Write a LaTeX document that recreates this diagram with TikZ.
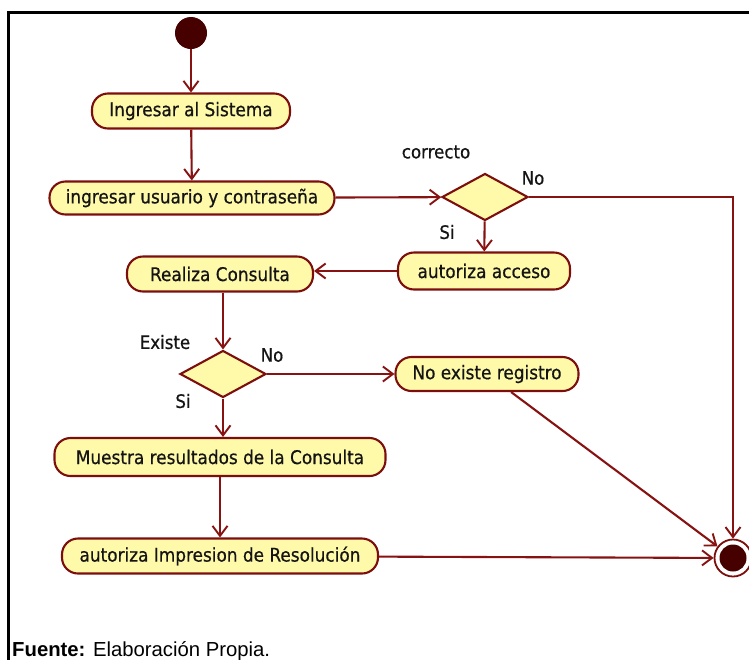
\documentclass[tikz,border=0pt]{standalone}
\usepackage{fontspec}
\setmainfont{DejaVu Sans Condensed}[FakeBold=0.6]
\newfontfamily\umlfont{DejaVu Sans Condensed}[FakeBold=0.6]
\newfontfamily\captionfont{Liberation Sans}
\usetikzlibrary{arrows.meta,shapes.geometric}
\definecolor{umlborder}{RGB}{125,14,14}
\definecolor{umlfill}{RGB}{255,250,170}
\definecolor{umlline}{RGB}{135,18,18}
\definecolor{umldot}{RGB}{70,0,0}
\begin{document}
\begin{tikzpicture}[x=1pt,y=-1pt,
  action/.style={draw=umlborder,fill=umlfill,line width=2.1pt,rounded corners=16pt,
    minimum height=#1,inner sep=0pt,font=\umlfont\fontsize{18.8}{21}\selectfont,text=black!92},
  action/.default=35pt,
  decision/.style={draw=umlborder,fill=umlfill,line width=2.1pt,diamond,aspect=1.8,
    minimum width=86pt,minimum height=47pt,inner sep=0pt},
  guard/.style={font=\umlfont\fontsize{18.5}{21}\selectfont,text=black!92,inner sep=0pt},
  flow/.style={draw=umlline,line width=2.1pt,-{Straight Barb[length=10pt,width=15pt,line width=1.9pt]}}]
\useasboundingbox (0,0) rectangle (749,659);
\fill[white] (0,0) rectangle (749,659);
% outer frame
\draw[line width=2.2pt,black] (8.5,660) -- (8.5,12.5) -- (750,12.5);

% states
\node[circle,fill=umldot,minimum width=29pt,minimum height=31pt,inner sep=0pt,
  draw=umldot,line width=1pt] (start) at (191,33) {};
\node[action,minimum width=198pt] (a1) at (191,111) {Ingresar al Sistema};
\node[action=33pt,minimum width=285pt] (a2) at (192,198) {ingresar usuario y contraseña};
\node[decision] (d1) at (485,197) {};
\node[action=37pt,minimum width=172pt] (a3) at (484,271) {autoriza acceso};
\node[action,minimum width=186pt] (a4) at (220,274) {Realiza Consulta};
\node[decision] (d2) at (223,374) {};
\node[action=34pt,minimum width=183pt] (a5) at (487,374) {No existe registro};
\node[action=38pt,minimum width=331pt] (a6) at (220,457) {Muestra resultados de la Consulta};
\node[action,minimum width=316pt] (a7) at (220,556) {autoriza Impresion de Resolución};
\node[circle,draw=umlborder,line width=1.8pt,fill=white,minimum size=37pt,inner sep=0pt] (end) at (733,558) {};
\fill[umldot] (end.center) circle (13.5pt);

% guard labels
\node[guard] (g1) at (436,152) {correcto};
\node[guard] (g2) at (533,178) {No};
\node[guard] (g3) at (447,232) {Si};
\node[guard] (g4) at (165,342) {Existe};
\node[guard] (g5) at (272,355) {No};
\node[guard] (g6) at (183,401) {Si};

% control flows
\draw[flow] (start) -- (a1);
\draw[flow] (a1) -- (a2);
\draw[flow] (a2) -- (d1);
\draw[flow] (d1) -- (a3);
\draw[flow] (d1.east) -| (end);
\draw[flow] (a3.west) -- (a3.west -| a4.east);
\draw[flow] (d2 |- a4.south) -- (d2.north);
\draw[flow] (d2) -- (a5);
\draw[flow] (d2.south) -- (d2.south |- a6.north);
\draw[flow] (a6) -- (a7);
\draw[flow] (a7) -- (end);
\draw[flow] (a5) -- (end);

% source note
\node[anchor=base west,inner sep=0pt,font=\captionfont\fontsize{20.3}{22}\selectfont] (src) at (12,656)
  {\textbf{Fuente:} Elaboración Propia.};
\end{tikzpicture}
\end{document}
